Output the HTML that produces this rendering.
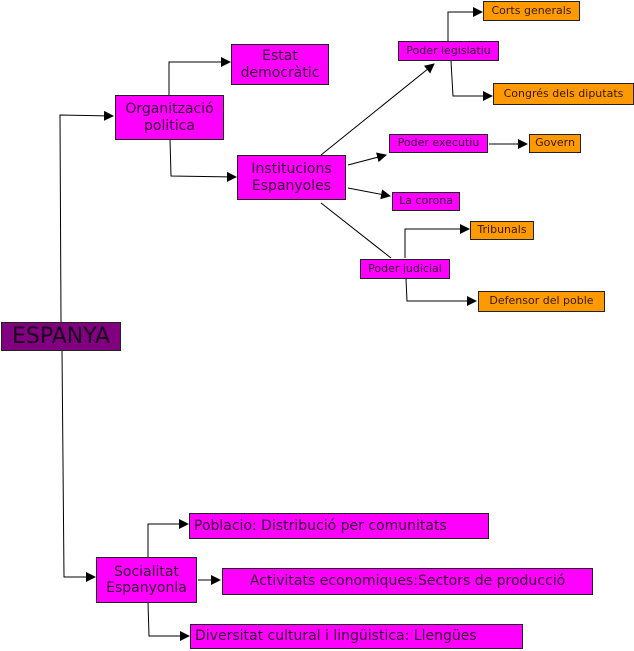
<!DOCTYPE html>
<html><head><meta charset="utf-8"><style>
body{margin:0;width:634px;height:651px;background:#fff;position:relative;overflow:hidden;font-family:"DejaVu Sans","Liberation Sans",sans-serif;}
.b{position:absolute;box-sizing:border-box;border:1px solid #222;background:#ff00ff;color:#330033;text-align:center;display:flex;align-items:center;justify-content:center;line-height:1.15;white-space:nowrap}
.o{background:#ff9900;color:#331a00}
.s{font-size:11px}
.m{font-size:14px}
svg{position:absolute;left:0;top:0}
</style></head><body>
<svg width="634" height="651">
<defs><marker id="a" markerWidth="10" markerHeight="10" refX="9" refY="5" orient="auto" markerUnits="userSpaceOnUse"><path d="M0,0 L10,5 L0,10 z" fill="#000"/></marker></defs>
<g fill="none" stroke="#000" stroke-width="1">
<polyline points="61,322 60,115 113,116" marker-end="url(#a)"/>
<polyline points="62,350 64,577 95,577" marker-end="url(#a)"/>
<polyline points="169,95 169,62 230,62" marker-end="url(#a)"/>
<polyline points="170,139 171,176 236,177" marker-end="url(#a)"/>
<line x1="321" y1="155" x2="434" y2="64" marker-end="url(#a)"/>
<line x1="348" y1="165" x2="386" y2="155" marker-end="url(#a)"/>
<line x1="348" y1="188" x2="390" y2="196" marker-end="url(#a)"/>
<line x1="321" y1="203" x2="391" y2="258"/>
<polyline points="448,41 448,12 482,12" marker-end="url(#a)"/>
<polyline points="451,61 453,96 492,96" marker-end="url(#a)"/>
<line x1="489" y1="144" x2="527" y2="144" marker-end="url(#a)"/>
<polyline points="405,258 405,229 469,229" marker-end="url(#a)"/>
<polyline points="406,279 407,301 476,301" marker-end="url(#a)"/>
<polyline points="148,557 148,524 188,524" marker-end="url(#a)"/>
<line x1="198" y1="580" x2="220" y2="580" marker-end="url(#a)"/>
<polyline points="148,602 149,636 189,636" marker-end="url(#a)"/>
</g></svg>
<div class="b o s" style="left:483px;top:1px;width:97px;height:20px">Corts generals</div>
<div class="b m" style="left:231px;top:44px;width:98px;height:41px">Estat<br>democràtic</div>
<div class="b s" style="left:398px;top:41px;width:101px;height:20px">Poder legislatiu</div>
<div class="b o s" style="left:493px;top:83px;width:141px;height:22px">Congrés dels diputats</div>
<div class="b m" style="left:115px;top:95px;width:109px;height:45px">Organització<br>politica</div>
<div class="b s" style="left:389px;top:134px;width:99px;height:19px">Poder executiu</div>
<div class="b o s" style="left:529px;top:134px;width:52px;height:19px">Govern</div>
<div class="b m" style="left:237px;top:155px;width:109px;height:45px">Institucions<br>Espanyoles</div>
<div class="b s" style="left:392px;top:192px;width:68px;height:19px">La corona</div>
<div class="b o s" style="left:470px;top:221px;width:64px;height:19px">Tribunals</div>
<div class="b s" style="left:360px;top:259px;width:90px;height:20px">Poder judicial</div>
<div class="b o s" style="left:478px;top:291px;width:127px;height:21px">Defensor del poble</div>
<div class="b" style="left:1px;top:322px;width:120px;height:29px;background:#800080;color:#1a001a;font-size:22px">ESPANYA</div>
<div class="b m" style="left:96px;top:557px;width:101px;height:46px">Socialitat<br>Espanyonla</div>
<div class="b m" style="left:189px;top:513px;width:300px;height:26px;justify-content:flex-start;padding-left:4px">Poblacio: Distribució per comunitats</div>
<div class="b m" style="left:222px;top:568px;width:371px;height:27px">Activitats economiques:Sectors de producció</div>
<div class="b m" style="left:190px;top:624px;width:333px;height:25px;justify-content:flex-start;padding-left:4px">Diversitat cultural i lingüistica: Llengües</div>
</body></html>
